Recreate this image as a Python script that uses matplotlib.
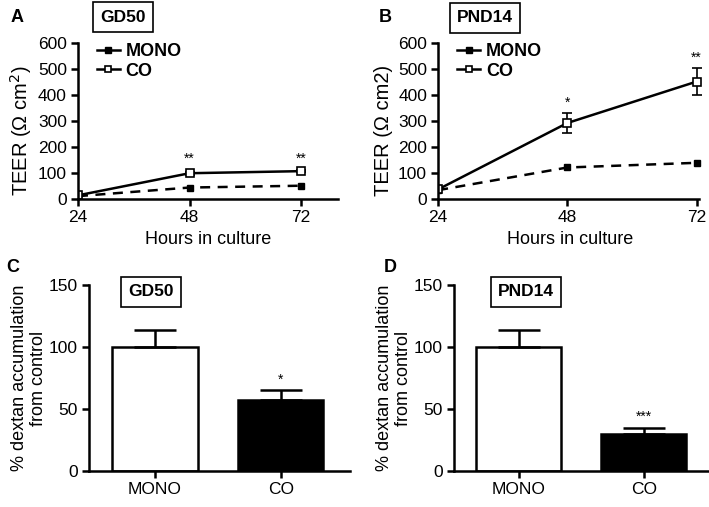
import numpy as np
from matplotlib import pyplot as plt
from matplotlib.lines import Line2D

plt.rcParams['font.family'] = ['Liberation Sans', 'DejaVu Sans']

hours = [24, 48, 72]
gd50_mono = [12, 45, 52]
gd50_co = [15, 100, 108]
gd50_co_err = [0, 6, 5]
pnd14_mono = [35, 122, 140]
pnd14_co = [38, 293, 452]
pnd14_co_err = [0, 38, 53]

groups = ["MONO", "CO"]
gd50_dex = [100, 57]
gd50_dex_err = [14, 8]
pnd14_dex = [100, 30]
pnd14_dex_err = [14, 5]

LW = 1.8


def style_axes(ax):
    for s in ["top", "right"]:
        ax.spines[s].set_visible(False)
    for s in ["left", "bottom"]:
        ax.spines[s].set_linewidth(LW)
    ax.tick_params(width=LW, length=5, labelsize=12.5, direction="out", pad=3)


def plot_teer(ax, mono, co, co_err, ylabel, xmax, stars):
    ax.plot(hours, mono, "k--", lw=LW, marker="s", ms=5, mfc="black", dashes=(4, 3))
    ax.errorbar(hours, co, yerr=co_err, fmt="-", color="black", lw=LW, marker="s",
                ms=5.5, mfc="white", mew=1.2, capsize=3.5, elinewidth=1.2, capthick=1.2)
    ax.set_xlim(24, xmax)
    ax.set_ylim(0, 600)
    ax.set_xticks(hours)
    ax.set_yticks(range(0, 601, 100))
    ax.spines["left"].set_bounds(0, 600)
    ax.set_xlabel("Hours in culture", fontsize=13)
    ax.set_ylabel(ylabel, fontsize=14.5, labelpad=1)
    ax.yaxis.set_label_coords(-0.17, 0.44)
    for x, y, t in stars:
        ax.text(x, y, t, ha="center", va="bottom", fontsize=10)
    handles = [Line2D([], [], color="black", lw=LW, marker="s", ms=4.5, mfc="black"),
               Line2D([], [], color="black", lw=LW, marker="s", ms=5, mfc="white", mew=1.2)]
    ax.legend(handles, ["MONO", "CO"], loc="upper left", frameon=False,
              prop={"weight": "bold", "size": 13}, handlelength=1.3,
              handletextpad=0.3, borderaxespad=0.2, labelspacing=0.15,
              bbox_to_anchor=(0.03, 1.07))
    style_axes(ax)


def plot_dex(ax, vals, errs, xlim, star):
    x = np.arange(len(groups))
    ax.bar(x, vals, width=0.68, color=["white", "black"], edgecolor="black", lw=LW)
    ax.errorbar(x, vals, yerr=[np.zeros(len(errs)), errs], fmt="none", ecolor="black",
                elinewidth=LW, capsize=15, capthick=LW)
    ax.set_xlim(*xlim)
    ax.set_ylim(0, 150)
    ax.set_yticks([0, 50, 100, 150])
    ax.set_xticks(x)
    ax.set_xticklabels(groups)
    ax.set_ylabel("% dextan accumulation\nfrom control", fontsize=13, labelpad=1,
                  linespacing=1.2)
    ax.text(1, vals[1] + errs[1] + 3, star, ha="center", va="bottom", fontsize=10)
    style_axes(ax)


fig = plt.figure(figsize=(7.09, 5.07), dpi=100)

axA = fig.add_axes([0.110, 0.607, 0.367, 0.308])
plot_teer(axA, gd50_mono, gd50_co, gd50_co_err, "TEER (Ω cm$^2$)", 80,
          [(48, 130, "**"), (72, 130, "**")])

axB = fig.add_axes([0.618, 0.607, 0.372, 0.308])
plot_teer(axB, pnd14_mono, pnd14_co, pnd14_co_err, "TEER (Ω cm2)", 73,
          [(48, 345, "*"), (72, 515, "**")])
axB.spines["bottom"].set_bounds(24, 72.5)

axC = fig.add_axes([0.1255, 0.071, 0.368, 0.367])
plot_dex(axC, gd50_dex, gd50_dex_err, (-0.524, 1.55), "*")

axD = fig.add_axes([0.640, 0.071, 0.360, 0.367])
plot_dex(axD, pnd14_dex, pnd14_dex_err, (-0.52, 1.52), "***")

box = dict(boxstyle="square,pad=0.42", fc="white", ec="black", lw=1.2)
fig.text(123 / 709, 1 - 17 / 507, "GD50", ha="center", va="center", fontsize=12.5,
         weight="bold", bbox=box)
fig.text(485 / 709, 1 - 18 / 507, "PND14", ha="center", va="center", fontsize=12.5,
         weight="bold", bbox=box)
fig.text(151 / 709, 1 - 292 / 507, "GD50", ha="center", va="center", fontsize=12.5,
         weight="bold", bbox=box)
fig.text(526 / 709, 1 - 292 / 507, "PND14", ha="center", va="center", fontsize=12.5,
         weight="bold", bbox=box)

for x, y, t in [(17, 17, "A"), (385, 17, "B"), (13, 268, "C"), (390, 268, "D")]:
    fig.text(x / 709, 1 - y / 507, t, ha="center", va="center", fontsize=13, weight="bold")

fig.savefig("out.png", dpi=100)
